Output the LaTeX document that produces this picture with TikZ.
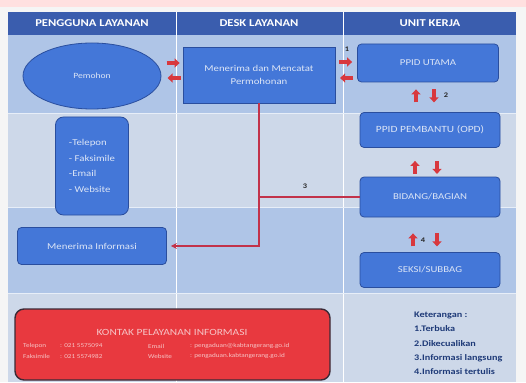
\documentclass[tikz,border=0pt]{standalone}
\usepackage{fontspec}
\setmainfont{Carlito}[FakeStretch=1.2]
\usetikzlibrary{arrows.meta,calc,positioning,shapes.geometric}

\definecolor{hdrblue}{HTML}{3A5DAE}
\definecolor{rowA}{HTML}{AFC5E7}
\definecolor{rowB}{HTML}{CDD8E9}
\definecolor{boxblue}{HTML}{4477D8}
\definecolor{boxedge}{HTML}{2A4E9E}
\definecolor{boxtext}{HTML}{DCE5F6}
\definecolor{flowred}{HTML}{C2324A}
\definecolor{arrred}{HTML}{D8383E}
\definecolor{kontakred}{HTML}{E8393F}
\definecolor{kontakedge}{HTML}{3A2A36}
\definecolor{kontaktext}{HTML}{F6C4C6}
\definecolor{navy}{HTML}{1E3A78}

\begin{document}
\begin{tikzpicture}[x=1pt,y=-1pt,>=Stealth,
    hdr/.style={text=white,font=\fontsize{10.5}{12}\selectfont\bfseries},
    unitbox/.style={draw=boxedge,fill=boxblue,line width=0.8pt,rounded corners=4pt,
      text=boxtext,font=\fontsize{9}{11}\selectfont,inner sep=0pt},
    fatarr/.style={arrred,line width=4pt,-{Triangle[length=5pt,width=9pt]}},
    flow/.style={flowred,line width=1.4pt},
    numlbl/.style={font=\fontsize{7}{8}\selectfont\bfseries,text=black!85},
    kontaktxt/.style={text=kontaktext,font=\fontsize{6}{7}\selectfont,anchor=west,inner sep=0pt},
    ketlbl/.style={text=navy,font=\fontsize{8.5}{10}\selectfont\bfseries,anchor=west,inner sep=0pt}]

  \useasboundingbox (0,0) rectangle (526,382);

  %--- background and rows ---
  \fill[gray!8] (0,0) rectangle (526,382);
  \fill[red!12] (0,0) rectangle (526,7);
  \fill[hdrblue] (8,12) rectangle (516,35);
  \fill[rowA] (8,35) rectangle (516,113);
  \fill[rowB] (8,113) rectangle (516,207);
  \fill[rowA] (8,207) rectangle (516,293);
  \fill[rowB] (8,293) rectangle (516,382);
  \draw[white,line width=0.6pt] (176,12) -- (176,382);
  \draw[white,line width=0.6pt] (343,12) -- (343,382);
  \foreach \y in {113,207,293}
    \draw[white!70!rowA,line width=0.6pt] (8,\y) -- (516,\y);

  %--- column headers ---
  \node[hdr] (hpengguna) at (92,23.5) {PENGGUNA LAYANAN};
  \node[hdr] (hdesk) at (259,23.5) {DESK LAYANAN};
  \node[hdr] (hunit) at (430,23.5) {UNIT KERJA};

  %--- pengguna layanan ---
  \node[ellipse,draw=boxedge,fill=boxblue,line width=0.8pt,text=boxtext,
        font=\fontsize{8}{10}\selectfont,minimum width=138pt,minimum height=66pt]
        (pemohon) at (92,76) {Pemohon};
  \node[unitbox,rounded corners=8pt,minimum width=73pt,minimum height=98pt,
        align=left,font=\fontsize{9}{15.5}\selectfont] (media) at (92,166)
        {-Telepon\\- Faksimile\\-Email\\- Website};
  \node[unitbox,minimum width=149pt,minimum height=37pt] (terima) at (92,246)
        {Menerima Informasi};

  %--- desk layanan ---
  \node[unitbox,rounded corners=0pt,minimum width=152pt,minimum height=56pt,
        align=center,font=\fontsize{9}{13}\selectfont] (mencatat) at (259,75)
        {Menerima dan Mencatat\\Permohonan};

  %--- unit kerja ---
  \node[unitbox,minimum width=141pt,minimum height=38pt] (utama) at (428,63) {PPID UTAMA};
  \node[unitbox,minimum width=140pt,minimum height=35pt,font=\fontsize{9.5}{11}\selectfont]
        (pembantu) at (430,130) {PPID PEMBANTU (OPD)};
  \node[unitbox,minimum width=140pt,minimum height=40pt] (bidang) at (430,197) {BIDANG/BAGIAN};
  \node[unitbox,minimum width=140pt,minimum height=35pt] (seksi) at (430,270) {SEKSI/SUBBAG};

  %--- arrows pemohon <-> desk ---
  \draw[fatarr] ($(mencatat.west)+(-16,-12)$) -- ($(mencatat.west)+(-3,-12)$);
  \draw[fatarr] ($(mencatat.west)+(-2,3)$) -- ($(mencatat.west)+(-15,3)$);

  %--- arrows desk <-> ppid utama ---
  \draw[fatarr] ($(utama.west)+(-18,-1)$) -- ($(utama.west)+(-5,-1)$);
  \draw[fatarr] ($(utama.west)+(-4,15)$) -- ($(utama.west)+(-17,15)$);
  \node[numlbl] (n1) at ($(utama.west)+(-10,-14)$) {1};

  %--- arrows down the unit kerja column ---
  \draw[fatarr] ($(utama.south)+(-12,20)$) -- ($(utama.south)+(-12,7)$);
  \draw[fatarr] ($(utama.south)+(6,7)$) -- ($(utama.south)+(6,20)$);
  \node[numlbl] (n2) at ($(utama.south)+(18,13)$) {2};
  \draw[fatarr] ($(pembantu.south)+(-15,26)$) -- ($(pembantu.south)+(-15,13)$);
  \draw[fatarr] ($(pembantu.south)+(7,13)$) -- ($(pembantu.south)+(7,26)$);
  \draw[fatarr] ($(bidang.south)+(-17,29)$) -- ($(bidang.south)+(-17,16)$);
  \draw[fatarr] ($(bidang.south)+(7,16)$) -- ($(bidang.south)+(7,29)$);
  \node[numlbl] (n4) at ($(bidang.south)+(-7,23)$) {4};

  %--- information flow back to user ---
  \draw[flow,-{Stealth[length=6pt,width=6pt]},shorten >=4pt]
        (mencatat.south) |- (terima.east);
  \draw[flow] (bidang.west) -- (bidang.west -| mencatat.south);
  \node[numlbl] (n3) at (305,186) {3};

  %--- kontak pelayanan ---
  \node[draw=kontakedge,fill=kontakred,line width=1.4pt,rounded corners=9pt,
        minimum width=315pt,minimum height=71pt] (kontak) at (172.5,344.5) {};
  \node[text=kontaktext,font=\fontsize{9.5}{11}\selectfont] (ktitle) at (172,332)
        {KONTAK PELAYANAN INFORMASI};
  \node[kontaktxt] (ktel) at (23,346) {Telepon};
  \node[kontaktxt] (ktelv) at (60,346) {: 021 5575094};
  \node[kontaktxt] (kmail) at (148,346) {Email};
  \node[kontaktxt] (kmailv) at (190,346) {: pengaduan@kabtangerang.go.id};
  \node[kontaktxt] (kfax) at (23,356) {Faksimile};
  \node[kontaktxt] (kfaxv) at (60,356) {: 021 5574982};
  \node[kontaktxt] (kweb) at (148,356) {Website};
  \node[kontaktxt] (kwebv) at (190,356) {: pengaduan.kabtangerang.go.id};

  %--- keterangan ---
  \node[ketlbl] (ket0) at (414,315) {Keterangan :};
  \node[ketlbl] (ket1) at (414,329) {1.Terbuka};
  \node[ketlbl] (ket2) at (414,344) {2.Dikecualikan};
  \node[ketlbl] (ket3) at (414,358) {3.Informasi langsung};
  \node[ketlbl] (ket4) at (414,372) {4.Informasi tertulis};

\end{tikzpicture}
\end{document}
